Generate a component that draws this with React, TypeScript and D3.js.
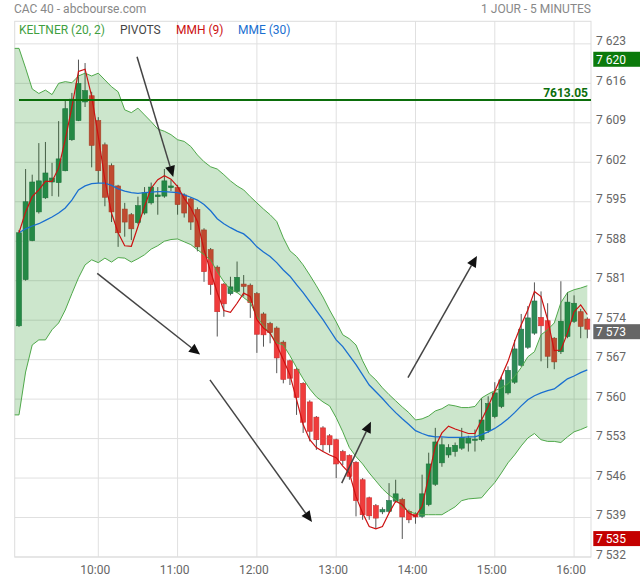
import React from 'react';
import * as d3 from 'd3';

const W = 640;
const H = 580;

// ---- data ----
const startMinutes = 540; // 09:00
const stepMinutes = 5;

const open = [7573.0,7581.2,7588.1,7593.2,7595.7,7598.5,7598.4,7600.5,7606.0,7609.4,7612.7,7613.8,7609.4,7605.1,7601.4,7597.8,7593.7,7592.7,7591.3,7593.0,7594.8,7595.9,7596.0,7597.5,7597.5,7596.2,7595.5,7593.6,7590.0,7586.5,7583.4,7580.4,7578.7,7579.1,7580.4,7580.2,7578.7,7575.1,7573.4,7572.6,7570.1,7566.8,7565.3,7562.8,7559.5,7556.8,7554.9,7553.5,7552.8,7550.7,7550.0,7548.8,7545.7,7542.5,7541.1,7540.0,7540.1,7541.9,7542.2,7540.1,7539.6,7539.2,7541.3,7544.9,7548.7,7550.1,7550.7,7551.3,7552.2,7552.7,7552.8,7554.4,7556.9,7558.7,7561.1,7563.0,7566.0,7569.2,7571.7,7574.5,7573.9,7570.8,7568.4,7571.1,7573.8,7575.5,7574.2];
const high = [7590.0,7600.8,7599.8,7605.4,7605.6,7601.9,7609.3,7612.9,7614.3,7620.2,7619.6,7614.5,7610.0,7605.5,7601.8,7598.0,7594.8,7593.0,7595.9,7597.6,7598.4,7597.6,7600.8,7598.9,7598.0,7596.5,7595.8,7594.0,7590.3,7586.8,7583.7,7580.6,7581.7,7584.4,7582.0,7580.5,7579.0,7575.4,7573.7,7572.9,7570.4,7567.0,7565.6,7563.0,7559.8,7557.0,7555.2,7553.8,7553.0,7551.0,7550.2,7549.0,7546.0,7542.7,7541.4,7540.8,7545.1,7545.7,7542.5,7540.4,7539.9,7546.6,7550.5,7554.9,7553.2,7552.0,7552.3,7554.9,7553.5,7554.6,7560.2,7560.5,7563.0,7564.0,7565.8,7570.5,7575.1,7576.5,7580.7,7579.1,7577.0,7571.0,7580.9,7579.0,7578.4,7576.0,7574.5];
const low = [7572.8,7581.0,7588.0,7592.9,7595.5,7596.0,7595.9,7600.4,7605.8,7609.3,7611.8,7601.1,7598.3,7594.2,7591.4,7587.0,7588.8,7588.2,7591.0,7592.7,7594.5,7592.7,7595.7,7596.9,7592.7,7592.2,7590.0,7586.2,7580.8,7578.5,7571.1,7574.6,7578.4,7578.8,7578.2,7574.4,7568.2,7569.3,7569.9,7564.6,7562.8,7562.5,7557.2,7554.0,7552.5,7551.0,7550.7,7550.5,7546.0,7548.3,7545.7,7539.2,7538.6,7538.6,7537.1,7539.6,7539.8,7541.6,7535.2,7538.0,7537.9,7538.9,7541.0,7544.6,7548.0,7549.6,7549.8,7551.0,7550.7,7550.7,7552.5,7554.0,7556.6,7558.4,7560.8,7562.7,7565.7,7568.9,7571.4,7566.7,7565.5,7565.3,7568.0,7570.8,7573.5,7570.8,7570.8];
const close = [7589.5,7595.0,7598.5,7598.7,7600.1,7599.2,7602.6,7611.5,7613.2,7616.0,7614.7,7605.0,7600.5,7595.8,7593.2,7589.5,7591.4,7590.2,7594.3,7596.6,7597.6,7596.2,7598.7,7597.8,7594.5,7593.0,7591.4,7587.0,7582.6,7580.3,7575.5,7576.9,7579.9,7581.6,7580.0,7577.1,7571.5,7571.4,7571.8,7567.3,7563.5,7563.7,7560.3,7555.9,7554.3,7552.8,7551.9,7551.9,7548.5,7549.1,7546.3,7542.0,7539.5,7539.3,7538.9,7540.4,7542.0,7543.2,7539.1,7538.6,7539.1,7543.2,7548.5,7552.4,7551.9,7551.4,7551.8,7553.2,7553.1,7552.9,7556.3,7559.2,7561.1,7563.4,7565.1,7568.9,7572.4,7574.4,7577.4,7573.0,7567.6,7566.6,7573.8,7577.2,7577.0,7572.9,7572.4];

const mmh9 = [7589.5,7593.2,7595.9,7597.1,7598.6,7598.6,7601.0,7606.0,7611.8,7618.1,7618.5,7613.7,7606.6,7598.9,7593.0,7589.5,7587.2,7587.1,7590.6,7594.2,7597.4,7598.9,7599.6,7599.0,7597.7,7595.6,7593.9,7591.5,7586.5,7582.6,7578.9,7575.7,7575.4,7577.0,7578.8,7578.2,7574.1,7572.6,7571.7,7569.6,7567.0,7564.3,7559.9,7555.5,7552.8,7551.4,7550.7,7550.1,7549.6,7548.1,7546.9,7542.7,7539.8,7537.4,7537.0,7537.4,7539.8,7541.9,7541.3,7539.8,7539.2,7541.0,7546.3,7551.6,7554.0,7555.2,7554.7,7554.3,7553.9,7553.9,7556.3,7558.7,7561.4,7564.0,7566.7,7570.2,7573.2,7575.8,7579.1,7578.2,7574.1,7568.6,7568.7,7571.7,7575.5,7576.7,7575.0];
const mme30 = [7589.5,7590.2,7590.7,7591.1,7591.7,7592.3,7593.0,7593.9,7595.3,7597.1,7597.8,7598.2,7598.3,7598.3,7597.9,7597.3,7596.9,7596.6,7596.5,7596.6,7596.7,7596.8,7596.8,7596.7,7596.6,7596.2,7595.8,7595.3,7594.5,7593.4,7592.0,7591.1,7590.4,7589.8,7589.3,7588.3,7587.0,7586.1,7585.3,7584.2,7582.9,7581.8,7580.3,7578.9,7577.3,7575.7,7574.1,7572.3,7570.5,7569.3,7567.7,7566.1,7564.3,7562.5,7561.3,7560.1,7558.8,7557.6,7556.5,7555.5,7554.4,7553.9,7553.5,7553.3,7553.3,7553.2,7553.2,7553.2,7553.3,7553.3,7553.7,7554.2,7554.8,7555.6,7556.5,7557.6,7558.8,7559.9,7560.6,7561.1,7561.5,7561.8,7562.7,7563.6,7564.1,7564.7,7565.2];

// Keltner bands start one bar earlier (08:55)
const keltnerStart = 535;
const keltnerUpper = [7622.2,7622.2,7618.7,7615.0,7614.2,7614.8,7614.0,7616.0,7616.3,7616.1,7617.3,7617.8,7617.3,7617.8,7616.6,7615.4,7614.5,7611.3,7610.8,7611.6,7610.4,7609.2,7607.9,7607.5,7606.9,7606.0,7605.7,7604.8,7603.3,7602.1,7601.2,7600.8,7599.8,7598.7,7597.8,7597.1,7595.9,7594.8,7593.7,7592.7,7591.5,7588.6,7586.3,7585.3,7583.8,7582.0,7580.1,7578.1,7575.8,7573.7,7571.4,7570.7,7569.6,7566.8,7564.5,7563.4,7562.0,7560.8,7559.7,7558.6,7557.6,7556.3,7556.5,7557.0,7557.9,7558.3,7559.0,7558.8,7558.5,7558.5,7558.7,7560.2,7560.9,7561.5,7562.0,7562.7,7564.0,7565.6,7567.5,7568.4,7571.4,7572.3,7573.5,7577.1,7578.9,7579.4,7579.7,7580.1];
const keltnerLower = [7557.2,7557.2,7564.8,7569.6,7570.5,7570.5,7572.3,7573.5,7575.8,7578.7,7581.5,7583.8,7584.7,7584.2,7585.0,7584.3,7585.1,7585.0,7584.3,7584.9,7585.6,7586.6,7587.2,7588.0,7588.3,7588.4,7587.9,7587.4,7586.5,7585.6,7584.7,7582.6,7580.8,7579.4,7578.9,7578.0,7577.1,7574.6,7573.0,7571.6,7570.0,7569.6,7567.7,7565.6,7563.6,7561.8,7560.4,7559.5,7558.8,7556.7,7554.2,7551.4,7549.8,7548.5,7546.9,7545.5,7544.1,7543.0,7542.2,7540.9,7540.0,7539.7,7539.5,7539.5,7539.5,7539.5,7540.2,7540.9,7542.0,7542.3,7542.4,7542.5,7543.9,7545.2,7546.9,7548.7,7550.1,7551.7,7553.1,7553.9,7552.8,7552.5,7552.5,7552.3,7553.3,7554.2,7554.6,7555.1];

const priceTicks = [7532,7539,7546,7553,7560,7567,7574,7581,7588,7595,7602,7609,7616,7623];
const hourTicks = [600,660,720,780,840,900,960];
const hourLabels = ['10:00','11:00','12:00','13:00','14:00','15:00','16:00'];

const pivotLevel = 7613.05;
const pivotStart = 540;
const dayHigh = 7620;
const dayLow = 7535;
const lastQuote = 7573;

// trend arrows (time in minutes, price)
const arrowFromT = [629.3, 599.2, 684.5, 784.2, 834.3];
const arrowFromP = [7620.7, 7582.3, 7563.4, 7545.1, 7563.8];
const arrowToT = [656.7, 677.0, 761.7, 806.3, 886.5];
const arrowToP = [7599.4, 7567.9, 7538.2, 7556.0, 7585.4];

const legendItems = ['KELTNER (20, 2)', 'PIVOTS', 'MMH (9)', 'MME (30)'];
const legendColors = ['#3f9f3f', '#444444', '#cc1111', '#1a6fd0'];
const legendX = [19, 120, 176, 238];

// ---- layout ----
const plotL = 14.7, plotR = 591, plotT = 21.3, plotB = 557;
const FONT = 'Roboto, "Open Sans", sans-serif';

const fmtPrice = (v: number) => {
  const r = Math.round(v);
  return `${Math.floor(r / 1000)} ${String(r % 1000).padStart(3, '0')}`;
};

export default function App() {
  const x = d3.scaleLinear().domain([536.75, 972.8]).range([plotL, plotR]);
  const y = d3.scaleLinear().domain([7532, 7627]).range([plotB, plotT]);

  const tC = (i: number) => startMinutes + i * stepMinutes;
  const tK = (i: number) => keltnerStart + i * stepMinutes;

  const bandArea = d3.area<number>()
    .x((_, i) => x(tK(i)))
    .y0((_, i) => y(keltnerLower[i]))
    .y1((_, i) => y(keltnerUpper[i]));
  const upperLine = d3.line<number>().x((_, i) => x(tK(i))).y((d) => y(d));
  const seriesLine = d3.line<number>().x((_, i) => x(tC(i))).y((d) => y(d));

  const bodyW = 5;

  const arrows = arrowFromT.map((t, i) => {
    const x1 = x(t), y1 = y(arrowFromP[i]);
    const x2 = x(arrowToT[i]), y2 = y(arrowToP[i]);
    const ang = Math.atan2(y2 - y1, x2 - x1);
    const len = 11, hw = 5;
    const bx = x2 - len * Math.cos(ang), by = y2 - len * Math.sin(ang);
    const px = -Math.sin(ang) * hw, py = Math.cos(ang) * hw;
    return { x1, y1, bx, by, x2, y2, head: `M${x2},${y2}L${bx + px},${by + py}L${bx - px},${by - py}Z` };
  });

  const boxes = [
    { v: dayHigh, yc: y(dayHigh) - 1.5, fill: '#0b7a0b' },
    { v: lastQuote, yc: y(close[close.length - 1]) + 2.5, fill: '#666666' },
    { v: dayLow, yc: y(dayLow) - 1.5, fill: '#c40000' },
  ];

  return (
    <svg width={W} height={H} style={{ position: 'absolute', left: 0, top: 0, background: '#fff' }} fontFamily={FONT}>
      <defs>
        <clipPath id="plotClip">
          <rect x={plotL} y={plotT} width={plotR - plotL} height={plotB - plotT} />
        </clipPath>
      </defs>

      {/* header */}
      <text x={14} y={12.5} fontSize={12} fill="#888">CAC 40 - abcbourse.com</text>
      <text x={591} y={12.5} fontSize={12} fill="#888" textAnchor="end">1 JOUR - 5 MINUTES</text>

      {/* grid */}
      {priceTicks.map((v) => (
        <line key={'h' + v} x1={plotL} x2={plotR} y1={y(v)} y2={y(v)} stroke="#e0e0e0" strokeWidth={1} />
      ))}
      {hourTicks.map((t) => (
        <line key={'v' + t} x1={x(t)} x2={x(t)} y1={plotT} y2={plotB} stroke="#e0e0e0" strokeWidth={1} />
      ))}
      <rect x={plotL} y={plotT} width={plotR - plotL} height={plotB - plotT} fill="none" stroke="#dddddd" strokeWidth={1} />

      <g clipPath="url(#plotClip)">
        {/* candles */}
        {close.map((c, i) => {
          const o = open[i];
          const up = c >= o;
          const cx = x(tC(i));
          const top = y(Math.max(o, c));
          const bot = y(Math.min(o, c));
          return (
            <g key={'c' + i}>
              <line x1={cx} x2={cx} y1={y(high[i])} y2={y(low[i])} stroke="#555" strokeWidth={1} />
              <rect x={cx - bodyW / 2} y={top} width={bodyW} height={Math.max(1, bot - top)}
                fill={up ? '#2e8b57' : '#f03c3c'} stroke={up ? '#23704a' : '#c93030'} strokeWidth={0.6} />
            </g>
          );
        })}

        {/* keltner band */}
        <path d={bandArea(keltnerUpper) || ''} fill="rgba(0,128,0,0.2)" />
        <path d={upperLine(keltnerUpper) || ''} fill="none" stroke="#4fa84a" strokeWidth={1} />
        <path d={upperLine(keltnerLower) || ''} fill="none" stroke="#4fa84a" strokeWidth={1} />

        {/* moving averages */}
        <path d={seriesLine(mme30) || ''} fill="none" stroke="#1a6fd0" strokeWidth={1.3} />
        <path d={seriesLine(mmh9) || ''} fill="none" stroke="#cc1111" strokeWidth={1.2} />

        {/* pivot line */}
        <line x1={x(pivotStart)} x2={plotR} y1={y(pivotLevel)} y2={y(pivotLevel)} stroke="#0b6e0b" strokeWidth={2} />
        <text x={588} y={y(pivotLevel) - 2.5} fontSize={12} fontWeight="bold" fill="#0b6e0b" textAnchor="end">
          {pivotLevel.toFixed(2)}
        </text>

        {/* arrows */}
        {arrows.map((a, i) => (
          <g key={'a' + i}>
            <line x1={a.x1} y1={a.y1} x2={a.bx} y2={a.by} stroke="#444" strokeWidth={1.5} />
            <path d={a.head} fill="#111" />
          </g>
        ))}
      </g>

      {/* legend */}
      {legendItems.map((s, i) => (
        <text key={s} x={legendX[i]} y={33.5} fontSize={12} fill={legendColors[i]}>{s}</text>
      ))}

      {/* y axis labels */}
      {priceTicks.map((v) => (
        <text key={'yl' + v} x={596} y={y(v) + 1.5} fontSize={12} fill="#666">{fmtPrice(v)}</text>
      ))}
      {boxes.map((b) => (
        <g key={'b' + b.v}>
          <rect x={593.3} y={b.yc - 7.5} width={47} height={15} fill={b.fill} />
          <text x={596} y={b.yc + 4.3} fontSize={12} fill="#fff">{fmtPrice(b.v)}</text>
        </g>
      ))}

      {/* x axis labels */}
      {hourTicks.map((t, i) => (
        <text key={'xl' + t} x={x(t) - 3} y={574} fontSize={12} fill="#666" textAnchor="middle">{hourLabels[i]}</text>
      ))}
    </svg>
  );
}
